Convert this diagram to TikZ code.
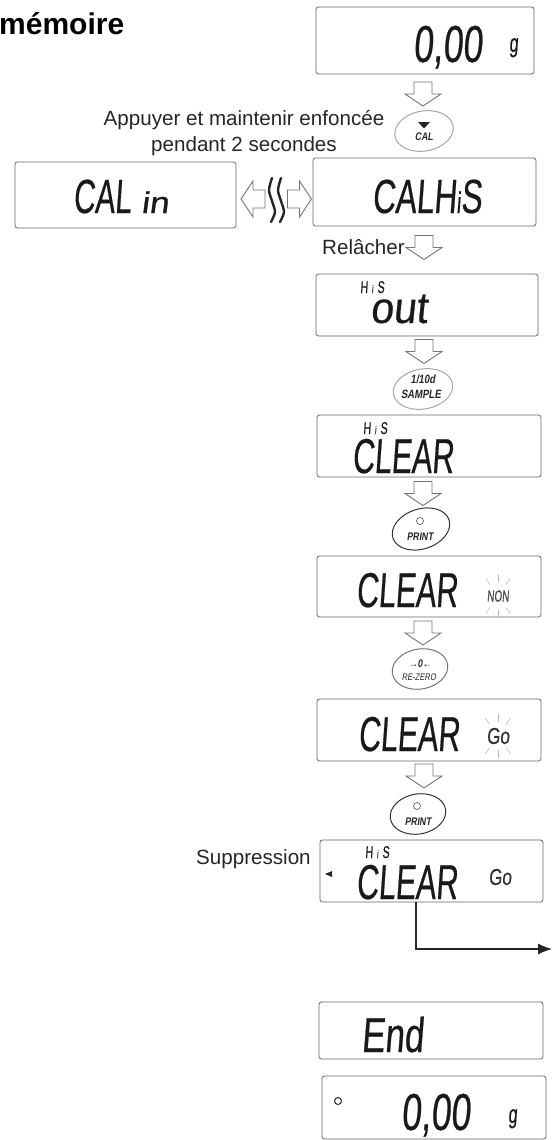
\documentclass[tikz,border=0pt]{standalone}
\usepackage{fontspec}
\setmainfont{Liberation Sans}
\newfontfamily\lcdfont[FakeSlant=0.07,FakeStretch=0.62,FakeBold=0.4]{Liberation Sans}
\newfontfamily\keyfont[FakeSlant=0.15,FakeStretch=0.8]{Liberation Sans}
\usetikzlibrary{shapes.geometric,arrows.meta}

\tikzset{
    lcdbox/.style={rectangle,draw=black!60,line width=0.8pt,rounded corners=2.5pt,inner sep=0pt},
    lcd/.style={anchor=base west,inner sep=0pt,text=black!90},
    legend/.style={font=\fontsize{20.6}{25.5}\selectfont,text=black!85,inner sep=0pt},
    downarrow/.pic={
        \draw[black!55,line width=0.9pt,line join=miter]
            (-9,-12) -- (9,-12) -- (9,0) -- (18,0) -- (0,12) -- (-18,0) -- (-9,0) -- cycle;
    },
    keybtn/.style={ellipse,draw=black!35,line width=1pt,minimum width=59pt,minimum height=40pt,inner sep=0pt,rotate=10},
    darkbtn/.style={keybtn,draw=black!80},
    keytext/.style={font=\keyfont\bfseries\fontsize{11}{11}\selectfont,text=black!85,inner sep=0pt},
    blink/.style={draw=black!30,line width=0.5pt},
    wave/.style={line width=2.4pt,black!85,line cap=round},
}

\newcommand{\lcdsize}[1]{\fontsize{#1}{#1}\selectfont}
\newcommand{\hisword}{H\hspace{4pt}{\lcdsize{11}i}\hspace{4pt}S}

\begin{document}
\begin{tikzpicture}[x=1pt,y=-1pt]
    \useasboundingbox (0,0) rectangle (553,1140);

    % Title
    \node[anchor=west,inner sep=0pt,font=\bfseries\fontsize{30}{30}\selectfont] (title) at (-1,24) {mémoire};

    % Display boxes
    \node[lcdbox,minimum width=218pt,minimum height=67pt] (zerobox) at (425,40.5) {};
    \node[lcdbox,minimum width=221pt,minimum height=66pt] (calinbox) at (125.5,195) {};
    \node[lcdbox,minimum width=223pt,minimum height=68pt] (calhisbox) at (424.5,192) {};
    \node[lcdbox,minimum width=222pt,minimum height=62pt] (outbox) at (427,305) {};
    \node[lcdbox,minimum width=224pt,minimum height=62pt] (clearbox) at (429,446) {};
    \node[lcdbox,minimum width=224pt,minimum height=61pt] (nonbox) at (429,586.5) {};
    \node[lcdbox,minimum width=224pt,minimum height=62pt] (gobox) at (429,730) {};
    \node[lcdbox,minimum width=223pt,minimum height=62pt] (delbox) at (431.5,871) {};
    \node[lcdbox,minimum width=224pt,minimum height=57pt] (endbox) at (431,1030.5) {};
    \node[lcdbox,minimum width=224pt,minimum height=63pt] (lastbox) at (434,1107.5) {};

    % Display texts
    \node[lcd,font=\lcdfont\lcdsize{52}] (zeroa) at (413,62) {\scalebox{1.1}[1]{0,00}};
    \node[lcd,font=\lcdfont\lcdsize{26}] (unita) at (509,52) {g};
    \node[lcd,font=\lcdfont\lcdsize{48}] (calin) at (73,213) {CAL\hspace{10pt}\scalebox{1.9}[1]{\lcdsize{30}in}};
    \node[lcd,font=\lcdfont\lcdsize{48}] (calhis) at (372,213) {\scalebox{1.06}[1]{CALH{\lcdsize{30}i}S}};
    \node[lcd,font=\lcdfont\lcdsize{17}] (hisa) at (360,293) {\hisword};
    \node[lcd,font=\lcdfont\lcdsize{44}] (outtxt) at (370,323) {\scalebox{1.5}[1]{out}};
    \node[lcd,font=\lcdfont\lcdsize{17}] (hisb) at (363,434) {\hisword};
    \node[lcd,font=\lcdfont\lcdsize{49}] (cleara) at (352,473) {CLEAR};
    \node[lcd,font=\lcdfont\lcdsize{49}] (clearb) at (356,607) {CLEAR};
    \node[inner sep=0pt,font=\lcdfont\lcdsize{16},text=black!70] (non) at (498,596) {NON};
    \node[lcd,font=\lcdfont\lcdsize{49}] (clearc) at (358,751) {CLEAR};
    \node[inner sep=0pt,font=\lcdfont\lcdsize{23},text=black!80] (goa) at (498,736) {\scalebox{1.2}[1]{Go}};
    \node[lcd,font=\lcdfont\lcdsize{17}] (hisc) at (365,858) {\hisword};
    \node[lcd,font=\lcdfont\lcdsize{49}] (cleard) at (356,899) {CLEAR};
    \node[inner sep=0pt,font=\lcdfont\lcdsize{23},text=black!80] (gob) at (500,877) {\scalebox{1.2}[1]{Go}};
    \node[lcd,font=\lcdfont\lcdsize{49}] (endtxt) at (361,1052) {\scalebox{1.15}[1]{End}};
    \node[lcd,font=\lcdfont\lcdsize{52}] (zerob) at (401,1130) {\scalebox{1.1}[1]{0,00}};
    \node[lcd,font=\lcdfont\lcdsize{26}] (unitb) at (508,1123) {g};

    % Blinking rays
    \foreach \a in {55,90,125,235,270,305} {
        \draw[blink] ([shift=(\a:14)]non.center) -- ([shift=(\a:21)]non.center);
        \draw[blink] ([shift=(\a:14)]goa.center) -- ([shift=(\a:22)]goa.center);
    }

    % Small marks
    \fill[black!85] (332,871) -- (332,877) -- (325,874) -- cycle;
    \draw[black!85,line width=1pt] (338,1101) circle (3.5);

    % Labels
    \node[legend,align=center] (press) at (244,133) {Appuyer et maintenir enfoncée\\pendant 2 secondes};
    \node[legend,anchor=west] (release) at (322,247) {Relâcher};
    \node[legend,anchor=west] (suppr) at (196,859) {Suppression};

    % Hollow arrows
    \pic (arra) at (423,94) {downarrow};
    \pic (arrb) at (424,247.5) {downarrow};
    \pic (arrc) at (424,351.5) {downarrow};
    \pic (arrd) at (423,493.5) {downarrow};
    \pic (arre) at (423,633) {downarrow};
    \pic (arrf) at (424,776) {downarrow};
    \pic[rotate=-90] (arrl) at (253,199) {downarrow};
    \pic[rotate=90] (arrr) at (299.5,199) {downarrow};

    % Squiggles
    \foreach \s in {0,9} {
        \draw[wave,xshift=\s pt] plot[smooth] coordinates {(272,178) (269,190) (272,201) (275,212) (271,222)};
    }

    % Keys
    \node[keybtn] (cal) at (424,131) {};
    \fill[black!85] (418,122) -- (430,122) -- (424,128.5) -- cycle;
    \node[keytext,font=\keyfont\bfseries\fontsize{11}{11}\selectfont] (caltxt) at (424,137) {CAL};

    \node[keybtn,minimum width=60pt] (sample) at (423,389) {};
    \node[keytext,font=\keyfont\bfseries\fontsize{12}{12}\selectfont] (sampa) at (423,379) {1/10d};
    \node[keytext,font=\keyfont\bfseries\fontsize{12}{12}\selectfont] (sampb) at (421,394) {SAMPLE};

    \node[darkbtn,rotate=8] (printa) at (421,529) {};
    \draw[black!70,line width=0.6pt] (420,521) circle (3.5);
    \node[keytext] (printatxt) at (420,537) {PRINT};

    \node[keybtn,draw=black!55,minimum width=56pt] (rezero) at (420,669) {};
    \node[keytext] (zerosym) at (420,664) {→0←};
    \node[keytext,font=\keyfont\fontsize{9.5}{9.5}\selectfont] (zerotxt) at (419,677) {RE-ZERO};

    \node[darkbtn,minimum width=56pt] (printb) at (418,814) {};
    \draw[black!70,line width=0.6pt] (417,806) circle (3.5);
    \node[keytext] (printbtxt) at (418,822) {PRINT};

    % Exit arrow
    \coordinate (bend) at (416,949);
    \coordinate (exit) at (552,949);
    \draw[black!85,line width=1.1pt,-{Latex[length=14pt,width=11pt]}] (delbox.south -| bend) -- (bend) -- (exit);
\end{tikzpicture}
\end{document}
